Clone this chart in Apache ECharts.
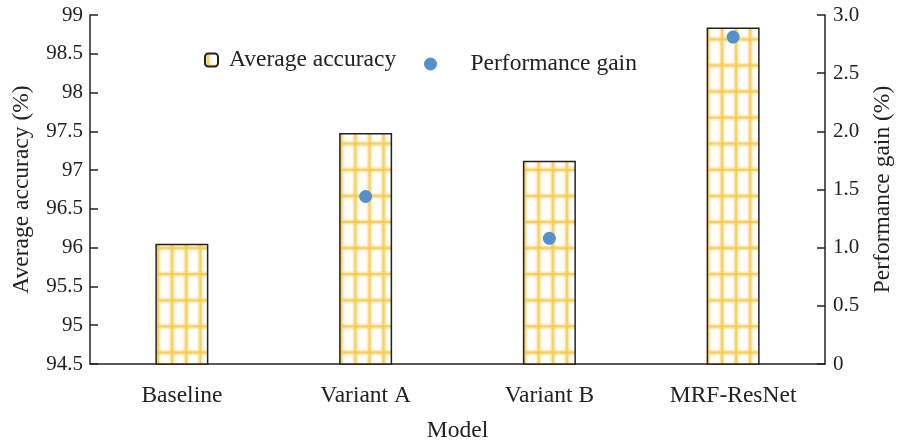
<!DOCTYPE html>
<html>
<head>
<meta charset="utf-8">
<script src="https://cdn.jsdelivr.net/npm/echarts@6/dist/echarts.min.js"></script>
<style>
  html, body { margin: 0; padding: 0; background: #fff; }
  #chart { width: 898px; height: 442px; }
</style>
</head>
<body>
<div id="chart"></div>
<script>
// Model comparison: accuracy bars with gain markers
const models = ['Baseline', 'Variant A', 'Variant B', 'MRF-ResNet'];
const avgAccuracy = [96.05, 97.48, 97.12, 98.84];      // %
const perfGain = [null, 1.44, 1.08, 2.81];             // %
const accTickLabels = ['94.5', '95', '95.5', '96', '96.5', '97', '97.5', '98', '98.5', '99'];
const gainTickLabels = ['0', '0.5', '1.0', '1.5', '2.0', '2.5', '3.0'];

const FONT = 'Liberation Serif, Times New Roman, serif';
const INK = '#222';
const TXT = 23.5;
const NUM = 21;

// Yellow check texture for the bars (soft-edged grid lines)
function makeCheck() {
  const colW = 14.1, rowH = 26.1, n = 10;
  const c = document.createElement('canvas');
  c.width = Math.round(colW * n);
  c.height = Math.round(rowH * n);
  const ctx = c.getContext('2d');
  ctx.fillStyle = '#fff';
  ctx.fillRect(0, 0, c.width, c.height);
  const x0 = 2.9, y0 = 13.2;
  function strokes(width, color) {
    ctx.strokeStyle = color;
    ctx.lineWidth = width;
    for (let i = -1; i <= n; i++) {
      const x = x0 + i * colW;
      ctx.beginPath(); ctx.moveTo(x, 0); ctx.lineTo(x, c.height); ctx.stroke();
      const y = y0 + i * rowH;
      ctx.beginPath(); ctx.moveTo(0, y); ctx.lineTo(c.width, y); ctx.stroke();
    }
  }
  strokes(6.5, 'rgba(251, 222, 140, 0.3)');
  strokes(4, 'rgba(249, 210, 100, 0.45)');
  strokes(1.8, 'rgba(247, 198, 70, 0.7)');
  return c;
}
const check = makeCheck();

const chart = echarts.init(document.getElementById('chart'));
chart.setOption({
  animation: false,
  textStyle: { fontFamily: FONT, color: INK },
  grid: { left: 90, right: 73, top: 15, bottom: 78, outerBoundsMode: 'none', containLabel: false },
  legend: [
    {
      data: ['Average accuracy'],
      left: 199, top: 43,
      itemWidth: 13, itemHeight: 13, itemGap: 0,
      textStyle: { fontFamily: FONT, fontSize: TXT, color: INK, padding: [0, 0, 0, 6] }
    },
    {
      data: ['Performance gain'],
      left: 419, top: 47,
      itemWidth: 40, itemHeight: 13,
      textStyle: { fontFamily: FONT, fontSize: TXT, color: INK, padding: [0, 0, 0, 15] }
    }
  ],
  xAxis: {
    type: 'category',
    data: models,
    name: 'Model',
    nameLocation: 'middle',
    nameGap: 55,
    nameTextStyle: { fontFamily: FONT, fontSize: TXT, color: INK },
    axisLine: { lineStyle: { color: INK, width: 1.5 } },
    axisTick: { show: false },
    axisLabel: { fontFamily: FONT, fontSize: TXT, color: INK, margin: 20 }
  },
  yAxis: [
    {
      type: 'value',
      min: 94.5, max: 99, interval: 0.5,
      name: 'Average accuracy (%)',
      nameLocation: 'middle',
      nameGap: 56,
      nameRotate: 90,
      nameTextStyle: { fontFamily: FONT, fontSize: TXT, color: INK },
      axisLine: { show: true, lineStyle: { color: INK, width: 1.5 } },
      axisTick: { show: true, inside: true, length: 8, lineStyle: { color: INK, width: 1.5 } },
      splitLine: { show: false },
      axisLabel: {
        fontFamily: FONT, fontSize: NUM, color: INK, margin: 7,
        formatter: (v) => accTickLabels[Math.round((v - 94.5) / 0.5)]
      }
    },
    {
      type: 'value',
      min: 0, max: 3, interval: 0.5,
      position: 'right',
      name: 'Performance gain (%)',
      nameLocation: 'middle',
      nameGap: 46,
      nameRotate: 90,
      nameTextStyle: { fontFamily: FONT, fontSize: TXT, color: INK },
      axisLine: { show: true, lineStyle: { color: INK, width: 1.5 } },
      axisTick: { show: true, inside: true, length: 8, lineStyle: { color: INK, width: 1.5 } },
      splitLine: { show: false },
      axisLabel: {
        fontFamily: FONT, fontSize: NUM, color: INK, margin: 8,
        formatter: (v) => gainTickLabels[Math.round(v / 0.5)]
      }
    }
  ],
  series: [
    {
      name: 'Average accuracy',
      type: 'bar',
      yAxisIndex: 0,
      barWidth: 53,
      data: avgAccuracy,
      itemStyle: {
        color: { image: check, repeat: 'repeat' },
        borderColor: INK,
        borderWidth: 1.5
      },
      z: 2
    },
    {
      name: 'Performance gain',
      type: 'scatter',
      yAxisIndex: 1,
      symbol: 'circle',
      symbolSize: 13,
      data: perfGain,
      itemStyle: { color: '#5590cc', opacity: 1 },
      z: 5
    }
  ]
});
</script>
</body>
</html>
